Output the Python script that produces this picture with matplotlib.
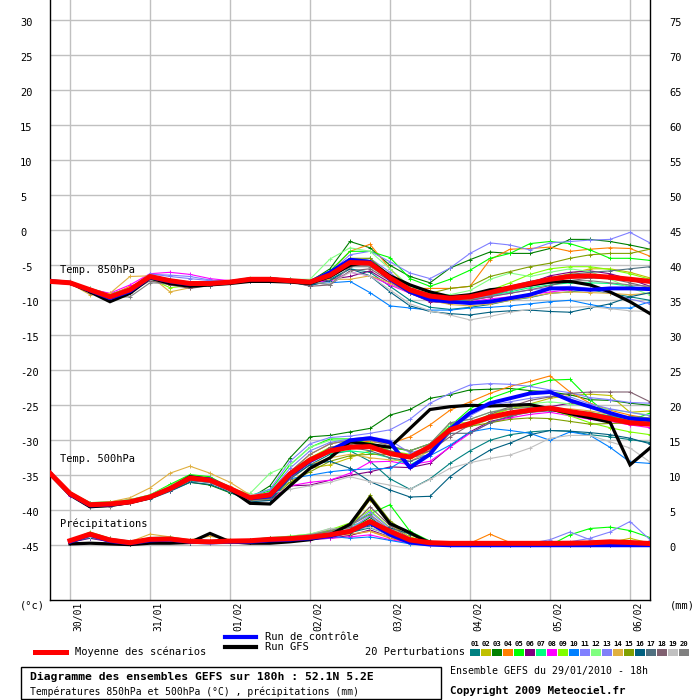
import numpy as np
import matplotlib
matplotlib.use("Agg")
import matplotlib.pyplot as plt
import matplotlib.transforms as mtransforms
from matplotlib.lines import Line2D
from matplotlib.patches import Rectangle

# Echeances (h) depuis le run du 29/01/2010 18h
HOURS = list(range(0, 181, 6))
PRECIP_HOURS = HOURS[1:]
DATE_HOURS = [6, 30, 54, 78, 102, 126, 150, 174]
DATE_LABELS = ["30/01", "31/01", "01/02", "02/02", "03/02", "04/02", "05/02", "06/02"]
LEFT_TICKS = list(range(-45, 31, 5))
PERT_NAMES = ["%02d" % i for i in range(1, 21)]
PERT_COLORS = ['#008080', '#c0c000', '#008000', '#ff8000', '#00ff00', '#800080',
               '#00ff80', '#ff00ff', '#80ff00', '#0080ff', '#8080ff', '#80ff80',
               '#8080f8', '#e0b040', '#80a000', '#006080', '#507080', '#806070',
               '#c0c0c0', '#808080']

# --- Temperature 850 hPa (°C) ---
t850_mean = [-7.3, -7.5, -8.5, -9.5, -8.5, -6.6, -7.2, -7.6, -7.6, -7.4, -7.0, -7.0, -7.2, -7.4, -6.4, -4.6,
             -4.7, -6.8, -8.5, -9.4, -9.7, -9.5, -8.9, -8.2, -7.6, -7.0, -6.6, -6.5, -6.7, -7.0, -7.3]
t850_ctrl = [-7.3, -7.5, -8.6, -9.7, -8.7, -6.7, -7.3, -7.7, -7.6, -7.4, -7.0, -7.0, -7.2, -7.4, -6.0, -4.2,
             -4.5, -7.0, -8.8, -9.9, -10.2, -10.4, -10.2, -9.7, -9.2, -8.3, -8.3, -8.5, -8.3, -8.3, -8.4]
t850_gfs = [-7.3, -7.5, -8.8, -10.2, -9.0, -6.8, -7.6, -8.0, -7.8, -7.6, -7.3, -7.3, -7.4, -7.6, -6.6, -5.0,
            -4.5, -6.5, -7.8, -8.8, -9.5, -9.2, -8.5, -8.2, -7.8, -7.4, -7.3, -7.8, -8.8, -10.2, -11.9]
t850_pert = [
    [-7.2, -7.6, -8.6, -9.4, -8.4, -6.8, -7.5, -7.8, -7.7, -7.5, -7.1, -7.1, -7.3, -7.9,
     -7.0, -5.5, -6.0, -8.0, -10.0, -11.0, -11.3, -11.0, -10.6, -10.0, -9.6, -9.0, -8.8, -8.5, -9.0, -9.5, -10.0],
    [-7.3, -7.5, -8.8, -9.2, -8.2, -6.5, -7.3, -7.5, -7.6, -7.3, -6.9, -7.0, -7.1, -7.2,
     -6.8, -5.0, -4.5, -6.5, -8.5, -9.8, -10.2, -9.8, -9.2, -8.5, -7.5, -6.8, -6.2, -5.5, -5.5, -6.0, -6.8],
    [-7.2, -7.4, -8.4, -9.6, -8.6, -6.4, -7.0, -7.4, -7.6, -7.4, -6.9, -6.8, -7.0, -7.3,
     -5.5, -1.6, -2.5, -5.0, -6.6, -7.5, -5.4, -4.2, -3.1, -3.3, -3.3, -2.6, -1.3, -1.3, -1.6, -2.1, -2.7],
    [-7.4, -7.5, -8.5, -9.3, -8.0, -6.9, -7.8, -8.0, -7.8, -7.4, -7.2, -7.1, -7.2, -7.4,
     -6.0, -3.0, -2.0, -5.5, -8.3, -8.3, -8.3, -8.0, -4.2, -2.7, -2.6, -2.4, -3.0, -2.7, -2.5, -2.6, -3.7],
    [-7.3, -7.6, -8.3, -9.1, -8.3, -6.8, -7.1, -7.6, -7.7, -7.5, -7.1, -7.0, -7.2, -7.2,
     -5.8, -3.0, -3.0, -3.9, -6.9, -8.0, -7.0, -5.7, -4.0, -3.3, -1.9, -1.6, -1.9, -2.8, -4.0, -4.0, -4.3],
    [-7.4, -7.5, -8.7, -9.5, -8.5, -6.7, -7.2, -7.8, -7.8, -7.5, -7.0, -6.8, -7.1, -7.5,
     -7.0, -6.6, -5.8, -7.5, -9.0, -10.2, -10.4, -10.0, -9.5, -8.5, -7.5, -6.5, -6.0, -5.8, -6.2, -7.0, -8.0],
    [-7.2, -7.4, -8.6, -9.3, -8.4, -6.6, -7.3, -7.7, -7.6, -7.3, -7.0, -7.1, -7.3, -7.4,
     -6.5, -4.5, -4.0, -6.5, -8.8, -9.8, -10.3, -10.0, -9.3, -8.8, -8.2, -7.8, -7.5, -7.5, -7.6, -8.0, -8.6],
    [-7.3, -7.6, -8.4, -9.0, -7.8, -6.2, -6.0, -6.3, -6.9, -7.2, -6.9, -7.0, -7.2, -7.3,
     -7.3, -6.0, -6.5, -7.8, -9.0, -9.8, -10.2, -10.2, -9.8, -9.5, -9.2, -8.8, -8.5, -8.3, -8.3, -8.2, -8.4],
    [-7.3, -7.5, -8.5, -9.4, -8.5, -6.9, -8.2, -7.9, -7.7, -7.4, -7.0, -7.0, -7.1, -7.3,
     -6.2, -4.0, -4.5, -6.8, -8.8, -9.5, -9.8, -9.5, -8.6, -7.5, -6.3, -5.5, -5.2, -5.2, -5.6, -6.2, -7.0],
    [-7.2, -7.5, -8.6, -9.7, -8.8, -7.0, -7.4, -7.7, -7.7, -7.6, -7.2, -7.2, -7.4, -7.7,
     -7.5, -7.3, -8.9, -10.8, -11.1, -11.4, -11.4, -11.1, -11.0, -10.8, -10.5, -10.2, -10.0, -10.6, -11.1, -11.1, -10.2],
    [-7.3, -7.4, -8.5, -9.5, -8.6, -6.3, -6.4, -6.6, -7.1, -7.3, -6.9, -6.9, -7.1, -7.2,
     -6.0, -3.5, -3.0, -4.5, -6.1, -6.9, -5.4, -3.3, -1.8, -2.1, -2.8, -1.8, -1.6, -1.4, -1.3, -0.3, -1.8],
    [-7.2, -7.6, -8.4, -9.2, -8.2, -6.6, -7.2, -7.4, -7.4, -7.2, -6.8, -6.8, -7.0, -7.0,
     -4.1, -2.5, -3.0, -5.5, -8.0, -9.0, -9.2, -8.6, -7.0, -6.1, -6.6, -6.0, -5.5, -5.9, -7.0, -8.2, -9.2],
    [-7.3, -7.5, -8.5, -9.3, -8.3, -6.2, -6.6, -6.9, -7.2, -7.3, -7.0, -7.0, -7.2, -7.3,
     -6.5, -4.5, -4.0, -6.0, -8.5, -9.5, -9.9, -9.8, -9.4, -9.0, -8.5, -8.2, -8.0, -8.3, -9.0, -9.8, -10.5],
    [-7.4, -7.6, -9.2, -9.0, -6.6, -6.5, -8.8, -8.2, -7.8, -7.5, -7.1, -7.1, -7.2, -7.2,
     -7.0, -7.0, -6.5, -7.5, -9.0, -10.0, -10.6, -10.8, -10.5, -10.0, -9.5, -9.0, -8.8, -8.9, -9.0, -9.2, -9.0],
    [-7.3, -7.5, -8.5, -9.4, -8.5, -6.7, -7.5, -7.9, -7.8, -7.5, -7.0, -7.1, -7.3, -7.6,
     -6.0, -4.0, -4.0, -6.5, -8.5, -9.0, -8.3, -8.0, -6.6, -5.9, -5.2, -4.7, -4.0, -3.5, -3.3, -3.3, -2.7],
    [-7.3, -7.6, -8.7, -9.6, -8.6, -6.8, -7.6, -8.0, -7.9, -7.6, -7.3, -7.2, -7.4, -7.9,
     -7.2, -5.5, -6.5, -8.8, -10.8, -11.6, -11.9, -12.1, -11.7, -11.5, -11.4, -11.6, -11.7, -11.1, -10.5, -9.5, -8.9],
    [-7.3, -7.5, -8.6, -9.5, -8.7, -6.9, -7.4, -7.9, -7.8, -7.5, -7.1, -7.2, -7.3, -7.5,
     -6.8, -5.0, -5.0, -7.0, -9.0, -9.8, -10.0, -9.6, -8.8, -8.0, -7.3, -6.8, -6.3, -6.0, -5.8, -5.5, -5.2],
    [-7.2, -7.5, -8.4, -9.4, -8.9, -7.2, -7.8, -8.3, -7.9, -7.5, -7.2, -7.1, -7.3, -8.0,
     -7.8, -5.8, -5.5, -7.2, -9.0, -10.0, -10.4, -10.0, -9.5, -9.0, -8.5, -7.9, -7.2, -6.8, -6.9, -7.5, -8.2],
    [-7.1, -7.4, -8.3, -9.3, -8.4, -6.8, -7.4, -7.7, -7.6, -7.4, -7.0, -6.9, -7.1, -7.4,
     -7.6, -6.0, -6.5, -8.5, -10.5, -11.5, -12.1, -12.8, -12.3, -11.7, -11.3, -11.0, -11.0, -10.9, -11.2, -11.5, -11.6],
    [-7.0, -7.3, -8.9, -9.6, -9.5, -7.5, -7.6, -7.8, -7.7, -7.4, -7.0, -7.0, -7.2, -7.4,
     -7.8, -5.2, -5.2, -7.0, -9.0, -9.8, -10.0, -9.8, -9.2, -8.6, -8.0, -7.5, -7.2, -7.2, -7.5, -7.8, -8.0],
]

# --- Temperature 500 hPa (°C) ---
t500_mean = [-34.7, -37.6, -39.2, -39.1, -38.8, -38.1, -36.9, -35.4, -35.7, -36.9, -38.2, -37.8, -34.8, -32.8,
             -31.5, -31.0, -30.9, -31.9, -32.4, -30.9, -28.5, -27.6, -26.7, -26.1, -25.7, -25.4, -25.9, -26.3,
             -26.9, -27.5, -27.7]
t500_ctrl = [-34.7, -37.7, -39.3, -39.2, -38.8, -38.1, -36.9, -35.4, -35.6, -36.9, -38.3, -38.0, -35.0, -33.0,
             -31.5, -30.0, -29.7, -30.3, -33.9, -32.0, -28.4, -26.1, -24.7, -24.0, -23.3, -23.1, -24.3, -25.2,
             -26.1, -26.9, -27.1]
t500_gfs = [-34.8, -37.8, -39.5, -39.3, -38.9, -38.2, -36.9, -35.2, -35.6, -37.0, -39.0, -39.1, -36.5, -34.0,
            -32.5, -30.2, -30.6, -31.0, -28.3, -25.6, -25.2, -25.0, -25.1, -25.0, -24.9, -25.5, -26.2, -26.8,
            -27.4, -33.5, -31.1]
t500_pert = [
    [-34.5, -37.8, -39.4, -39.3, -38.9, -38.2, -37.0, -35.8, -36.0, -37.2, -38.6, -38.3,
     -35.5, -33.5, -32.0, -31.5, -33.0, -35.5, -37.0, -35.5, -33.3, -31.5, -30.0, -29.2, -28.8, -28.6, -28.7, -29.2, -29.5, -29.9, -30.3],
    [-34.6, -37.5, -39.0, -38.9, -38.6, -38.0, -36.7, -35.3, -35.6, -36.8, -38.0, -37.5,
     -36.0, -34.0, -33.5, -32.5, -31.5, -31.0, -31.5, -30.5, -28.5, -27.5, -26.5, -25.5, -24.8, -24.0, -23.6, -23.4, -23.6, -26.0, -25.8],
    [-34.8, -37.7, -39.3, -39.0, -38.7, -38.2, -37.2, -36.0, -36.4, -37.5, -38.3, -36.5,
     -32.5, -29.5, -29.3, -28.8, -28.3, -26.4, -25.6, -24.0, -23.5, -22.8, -22.7, -22.6, -22.9, -23.1, -23.5, -24.2, -24.3, -24.7, -25.0],
    [-34.7, -37.6, -39.1, -39.2, -38.8, -38.0, -36.5, -35.0, -35.3, -36.6, -38.0, -37.6,
     -34.5, -32.0, -30.5, -30.0, -30.2, -30.5, -29.5, -27.8, -25.7, -24.5, -23.3, -22.3, -21.6, -20.8, -23.1, -24.7, -25.7, -26.4, -26.9],
    [-34.5, -37.4, -38.9, -38.8, -38.5, -37.8, -36.3, -34.9, -35.2, -36.8, -38.1, -37.2,
     -33.5, -31.0, -29.8, -29.8, -30.5, -31.0, -31.5, -30.5, -28.0, -25.5, -24.0, -23.0, -22.2, -21.4, -21.3, -24.2, -26.5, -27.2, -26.1],
    [-34.8, -37.7, -39.3, -39.2, -38.9, -38.3, -37.0, -35.6, -35.9, -37.1, -38.4, -38.6,
     -36.5, -36.4, -35.7, -35.0, -34.5, -33.8, -33.9, -33.3, -30.9, -28.8, -27.3, -26.7, -25.7, -25.2, -24.7, -25.2, -26.1, -27.0, -27.6],
    [-34.6, -37.5, -39.1, -39.0, -38.7, -38.0, -36.8, -35.2, -35.6, -36.9, -37.9, -37.0,
     -35.0, -32.8, -31.8, -31.5, -31.8, -32.5, -33.5, -32.0, -28.0, -28.0, -27.0, -26.2, -25.7, -25.5, -25.8, -26.0, -26.5, -27.0, -27.3],
    [-34.9, -37.9, -39.4, -39.3, -38.9, -38.3, -37.2, -35.6, -35.9, -37.3, -38.5, -38.4,
     -36.5, -36.0, -35.7, -34.7, -33.1, -33.0, -33.5, -33.0, -31.0, -29.0, -27.5, -26.8, -26.3, -26.0, -26.5, -27.0, -27.3, -27.8, -28.2],
    [-34.6, -37.6, -39.2, -39.0, -38.7, -38.0, -36.9, -35.3, -35.6, -36.9, -38.2, -37.5,
     -34.5, -32.5, -31.0, -30.5, -30.3, -31.5, -32.0, -31.0, -27.5, -27.5, -26.3, -25.5, -25.2, -25.6, -26.5, -27.5, -28.2, -28.8, -29.2],
    [-34.7, -37.7, -39.3, -39.2, -38.9, -38.2, -37.0, -35.7, -36.0, -37.2, -38.4, -37.9,
     -35.5, -35.0, -34.5, -34.2, -34.1, -34.0, -32.3, -32.2, -30.7, -28.8, -28.3, -28.6, -29.0, -30.0, -28.8, -29.3, -31.0, -33.1, -33.3],
    [-34.6, -37.5, -39.0, -38.9, -38.6, -37.9, -36.6, -35.1, -35.4, -36.7, -38.0, -37.0,
     -33.0, -30.5, -29.6, -29.4, -29.0, -28.5, -27.0, -24.7, -23.3, -22.1, -21.9, -22.0, -22.3, -22.8, -23.2, -23.9, -24.2, -24.6, -24.7],
    [-34.5, -37.4, -39.0, -38.8, -38.5, -37.8, -36.5, -35.3, -35.8, -36.9, -37.6, -34.7,
     -33.5, -31.0, -30.0, -30.2, -31.0, -32.0, -32.5, -30.5, -27.5, -27.0, -26.0, -25.3, -24.8, -24.5, -24.8, -25.2, -25.6, -26.0, -26.4],
    [-34.7, -37.6, -39.2, -39.1, -38.8, -38.1, -36.8, -35.4, -35.7, -37.0, -38.2, -37.4,
     -34.0, -31.5, -30.3, -29.8, -29.5, -30.0, -31.8, -31.0, -28.5, -26.5, -25.0, -24.5, -24.0, -23.7, -23.8, -24.8, -25.5, -26.0, -26.5],
    [-34.8, -37.7, -39.1, -38.8, -38.2, -36.8, -34.7, -33.7, -34.7, -36.0, -37.8, -37.8,
     -35.5, -33.5, -32.5, -32.0, -32.5, -32.8, -33.0, -31.5, -28.5, -28.0, -27.0, -26.5, -26.0, -25.6, -25.5, -25.8, -26.3, -26.8, -27.0],
    [-34.7, -37.7, -39.3, -39.2, -38.9, -38.2, -37.0, -35.6, -35.9, -37.1, -38.5, -38.5,
     -36.0, -34.5, -33.0, -32.2, -32.0, -32.0, -32.5, -31.5, -28.5, -28.0, -27.5, -27.0, -26.8, -26.9, -27.3, -27.7, -27.6, -27.5, -27.4],
    [-34.8, -37.8, -39.5, -39.4, -39.0, -38.4, -37.3, -36.0, -36.3, -37.4, -38.8, -38.6,
     -35.5, -33.5, -33.0, -34.0, -35.9, -37.1, -38.1, -38.0, -35.2, -33.1, -31.4, -30.4, -29.2, -28.6, -28.7, -28.9, -29.2, -29.7, -30.5],
    [-34.7, -37.7, -39.2, -39.1, -38.8, -38.1, -37.0, -35.5, -35.8, -37.0, -38.4, -38.3,
     -35.0, -33.0, -31.5, -31.0, -31.5, -32.5, -33.0, -32.0, -29.0, -29.0, -27.5, -26.5, -26.0, -25.8, -26.0, -26.3, -26.5, -26.6, -26.8],
    [-34.6, -37.6, -39.2, -39.1, -38.8, -38.1, -36.9, -35.4, -35.7, -36.9, -38.2, -37.8,
     -35.5, -33.0, -31.0, -30.5, -30.8, -31.5, -32.3, -31.5, -29.5, -27.8, -26.3, -25.2, -24.3, -23.8, -23.3, -23.1, -23.1, -23.1, -24.5],
    [-34.5, -37.5, -39.1, -39.0, -38.7, -38.0, -36.8, -35.5, -35.8, -37.3, -37.8, -37.6,
     -37.0, -36.5, -36.0, -35.2, -35.9, -36.4, -37.0, -35.6, -34.0, -33.2, -32.6, -32.1, -31.1, -29.7, -29.3, -29.3, -30.2, -31.1, -33.1],
    [-34.8, -37.8, -39.6, -39.5, -39.0, -38.3, -37.1, -35.7, -36.0, -37.2, -38.3, -37.6,
     -34.5, -32.0, -30.5, -30.0, -30.0, -30.8, -31.5, -30.5, -27.5, -27.0, -26.0, -25.5, -25.3, -25.5, -26.0, -26.6, -27.0, -27.4, -27.8],
]

# --- Precipitations (mm), de +6h a +180h ---
rr_mean = [0.66, 1.6, 0.75, 0.37, 0.85, 0.9, 0.57, 0.5, 0.6, 0.65, 0.85, 0.95, 1.15, 1.5, 2.0, 3.4, 2.0, 0.76,
           0.37, 0.28, 0.28, 0.28, 0.28, 0.28, 0.28, 0.3, 0.35, 0.5, 0.4, 0.25]
rr_ctrl = [0.5, 1.5, 0.6, 0.3, 0.7, 0.8, 0.5, 0.4, 0.5, 0.5, 0.7, 0.8, 1.0, 1.3, 2.0, 3.2, 1.5, 0.4,
           0.1, 0, 0, 0, 0, 0, 0, 0, 0, 0, 0, 0]
rr_gfs = [0.2, 0.3, 0.2, 0.1, 0.3, 0.3, 0.4, 1.7, 0.5, 0.3, 0.3, 0.5, 0.8, 1.5, 3.0, 6.8, 3.1, 1.8,
          0.3, 0.1, 0, 0, 0, 0, 0, 0, 0, 0, 0, 0]
rr_pert = [
    [0.5, 1.2, 0.7, 0.3, 0.7, 0.8, 0.4, 0.4, 0.5, 0.6, 0.8, 0.9, 1.0, 1.3, 1.8, 2.5, 1.5, 0.8, 0.3, 0.1, 0, 0, 0, 0, 0, 0, 0, 0, 0, 0],
    [0.6, 1.5, 0.8, 0.4, 1.0, 1.0, 0.6, 0.5, 0.7, 0.8, 1.0, 1.1, 1.3, 1.6, 2.5, 6.5, 3.0, 1.2, 0.4, 0.1, 0, 0, 0, 0, 0, 0, 0.2, 0.4, 1.0, 0.3],
    [0.7, 1.4, 0.6, 0.3, 0.8, 0.9, 0.5, 0.4, 0.6, 0.7, 0.9, 0.8, 0.9, 1.2, 2.2, 4.0, 1.8, 0.5, 0.2, 0, 0, 0, 0, 0, 0, 0, 0, 0, 0, 0],
    [0.5, 1.3, 0.7, 0.2, 0.9, 1.0, 0.7, 0.6, 0.5, 0.6, 0.7, 0.9, 1.2, 1.5, 1.5, 2.0, 1.0, 0.3, 0.1, 0, 0.3, 1.6, 0.4, 0, 0, 0, 0, 0, 0, 0],
    [0.6, 1.6, 0.9, 0.4, 0.8, 1.0, 0.6, 0.5, 0.6, 0.7, 1.0, 1.2, 1.5, 2.0, 3.0, 4.5, 5.8, 2.0, 0.6, 0.1, 0, 0, 0, 0, 0, 1.5, 2.4, 2.6, 2.1, 1.1],
    [0.4, 1.0, 0.5, 0.2, 0.6, 0.7, 0.4, 0.3, 0.4, 0.5, 0.6, 0.7, 0.8, 1.0, 1.4, 2.2, 1.2, 0.4, 0.1, 0, 0, 0.2, 0.3, 0.2, 0, 0, 0, 0, 0, 0],
    [0.6, 1.8, 0.9, 0.5, 1.1, 1.2, 0.7, 0.6, 0.7, 0.8, 1.1, 1.2, 1.4, 1.8, 2.8, 3.5, 2.0, 0.7, 0.2, 0, 0, 0, 0, 0, 0, 0, 0, 0, 0, 0],
    [0.5, 1.1, 0.6, 0.3, 0.8, 0.8, 0.5, 0.4, 0.5, 0.6, 0.7, 0.8, 0.9, 1.0, 1.2, 1.5, 0.8, 0.3, 0.1, 0, 0, 0, 0, 0, 0, 0, 0, 0, 0, 0],
    [0.7, 1.9, 1.0, 0.5, 1.0, 1.1, 0.6, 0.6, 0.7, 0.8, 1.0, 1.3, 1.6, 2.2, 3.2, 5.0, 2.5, 0.9, 0.3, 0, 0, 0, 0, 0, 0, 0, 0, 0, 0, 0],
    [0.6, 1.4, 0.7, 0.3, 0.8, 1.0, 0.6, 0.5, 0.6, 0.6, 0.8, 1.0, 1.1, 1.3, 1.0, 1.2, 0.7, 0.2, 0, 0, 0, 0, 0, 0, 0, 0, 0, 0, 0, 0],
    [0.5, 1.3, 0.6, 0.3, 0.7, 0.8, 0.5, 0.4, 0.6, 0.7, 0.9, 1.1, 1.4, 1.9, 2.8, 4.8, 2.4, 0.8, 0.3, 0.1, 0, 0, 0, 0, 0.2, 0.5, 1.0, 1.9, 3.4, 0.8],
    [0.6, 1.5, 0.8, 0.4, 0.9, 1.0, 0.6, 0.5, 0.7, 0.8, 1.1, 1.3, 1.6, 2.4, 2.5, 3.5, 2.2, 0.8, 0.2, 0, 0, 0, 0, 0, 0, 0, 0, 0, 0, 0],
    [0.5, 1.4, 0.7, 0.3, 0.8, 0.9, 0.5, 0.5, 0.6, 0.7, 0.9, 1.0, 1.2, 1.6, 2.4, 4.2, 2.0, 0.7, 0.2, 0, 0, 0, 0, 0.3, 0.8, 1.9, 0.8, 0.3, 0, 0],
    [0.7, 1.7, 0.9, 0.5, 1.6, 1.2, 0.8, 1.3, 0.8, 0.8, 1.0, 1.0, 1.2, 1.4, 1.6, 2.0, 1.2, 0.5, 0.2, 0, 0, 0, 0, 0, 0, 0, 0, 0, 0, 0],
    [0.6, 1.5, 0.8, 0.4, 0.9, 1.0, 0.6, 0.5, 0.6, 0.7, 1.0, 1.2, 1.5, 2.0, 3.0, 7.2, 3.5, 1.5, 0.4, 0.1, 0, 0, 0, 0, 0, 0, 0, 0, 0.3, 0.1],
    [0.4, 1.1, 0.6, 0.2, 0.7, 0.8, 0.4, 0.3, 0.4, 0.5, 0.7, 0.8, 1.0, 1.2, 1.8, 2.8, 2.5, 1.6, 0.6, 0.1, 0, 0, 0, 0, 0, 0, 0, 0, 0, 0],
    [0.5, 1.3, 0.7, 0.3, 0.8, 0.9, 0.5, 0.4, 0.5, 0.6, 0.8, 0.9, 1.1, 1.4, 2.0, 3.0, 1.6, 0.6, 0.2, 0, 0, 0, 0, 0, 0, 0, 0, 0, 0, 0],
    [0.6, 1.6, 0.8, 0.4, 0.9, 1.0, 0.6, 0.5, 0.6, 0.7, 0.9, 1.0, 1.3, 1.7, 2.6, 5.5, 2.8, 1.0, 0.3, 0, 0, 0, 0, 0, 0, 0, 0, 0, 0, 0],
    [0.5, 1.2, 0.6, 0.3, 0.8, 0.8, 0.5, 0.4, 0.5, 0.6, 0.9, 1.1, 1.5, 2.4, 2.2, 2.6, 1.4, 0.5, 0.1, 0, 0, 0, 0, 0, 0, 0, 0, 0, 0, 0],
    [0.8, 1.8, 1.0, 0.6, 1.0, 1.1, 0.7, 0.6, 0.7, 0.8, 1.0, 1.2, 1.5, 2.1, 2.8, 4.4, 2.2, 0.8, 0.3, 0.1, 0, 0, 0, 0, 0, 0, 0, 0, 0, 0],
]

RR_OFFSET = 45  # 0 mm sur l'axe de droite = -45 °C a gauche

W, H = 700, 700
FONT = 'DejaVu Sans Mono'
plt.rcParams['font.family'] = FONT


def fx(px):
    return px / W


def fy(py):
    return 1 - py / H


fig = plt.figure(figsize=(7, 7), dpi=100)
ax = fig.add_axes([fx(50), fy(600), 600 / W, 600 / H])
ax.set_xlim(0, 180)
ax.set_ylim(30 - (600 - 20.3) / 7, 30 + 20.3 / 7)

# grille
for v in LEFT_TICKS:
    ax.axhline(v, color='#c0c0c0', lw=1.0, zorder=0)
for h in DATE_HOURS:
    ax.axvline(h, color='#c0c0c0', lw=1.0, zorder=0)

for s in ['top']:
    ax.spines[s].set_visible(False)
for s in ['left', 'right', 'bottom']:
    ax.spines[s].set_linewidth(1.0)
    ax.spines[s].set_color('black')
ax.set_xticks([])
ax.set_yticks([])

rr_pert_shift = [[r - RR_OFFSET for r in serie] for serie in rr_pert]

# perturbations
for i, col in enumerate(PERT_COLORS):
    for xs, ys in ((HOURS, t850_pert[i]), (HOURS, t500_pert[i]), (PRECIP_HOURS, rr_pert_shift[i])):
        ax.plot(xs, ys, color=col, lw=0.8, marker='+', ms=3, mew=0.7, zorder=2)

# run GFS, controle, moyenne
for xs, ys in ((HOURS, t850_gfs), (HOURS, t500_gfs), (PRECIP_HOURS, [r - RR_OFFSET for r in rr_gfs])):
    ax.plot(xs, ys, color='black', lw=2.3, zorder=3, solid_joinstyle='miter')
for xs, ys in ((HOURS, t850_ctrl), (HOURS, t500_ctrl), (PRECIP_HOURS, [r - RR_OFFSET for r in rr_ctrl])):
    ax.plot(xs, ys, color='#0000ff', lw=2.8, zorder=4)
for xs, ys in ((HOURS, t850_mean), (HOURS, t500_mean), (PRECIP_HOURS, [r - RR_OFFSET for r in rr_mean])):
    ax.plot(xs, ys, color='#ff0000', lw=3.6, zorder=5)

# graduations gauche / droite
trans = mtransforms.blended_transform_factory(fig.transFigure, ax.transData)
for v in LEFT_TICKS:
    ax.text(fx(20), v - 0.45, str(v), transform=trans, ha='left', va='center',
            fontsize=7.5, clip_on=False)
    ax.text(fx(669), v - 0.45, str(v + RR_OFFSET), transform=trans, ha='left', va='center',
            fontsize=7.5, clip_on=False)

# dates
for h, lab in zip(DATE_HOURS, DATE_LABELS):
    xp = 50 + h * 600 / 180 + 3
    fig.text(fx(xp), fy(602), lab, rotation=90, ha='left', va='top', fontsize=7)

fig.text(fx(20), fy(606), "(°c)", ha='left', va='center', fontsize=7.5)
fig.text(fx(670), fy(605), "(mm)", ha='left', va='center', fontsize=7.5)

# etiquettes dans le graphe
fig.text(fx(60), fy(270), "Temp. 850hPa", ha='left', va='center', fontsize=7.5)
fig.text(fx(60), fy(459), "Temp. 500hPa", ha='left', va='center', fontsize=7.5)
fig.text(fx(60), fy(524), "Précipitations", ha='left', va='center', fontsize=7.5)

# legende
fig.add_artist(Line2D([fx(225), fx(256)], [fy(636.5), fy(636.5)], color='#0000ff', lw=3.0))
fig.add_artist(Line2D([fx(225), fx(256)], [fy(646.5), fy(646.5)], color='black', lw=3.0))
fig.add_artist(Line2D([fx(35), fx(66)], [fy(651.5), fy(651.5)], color='#ff0000', lw=3.6))
fig.text(fx(265), fy(636.5), "Run de contrôle", ha='left', va='center', fontsize=7.5)
fig.text(fx(265), fy(646.5), "Run GFS", ha='left', va='center', fontsize=7.5)
fig.text(fx(75), fy(652), "Moyenne des scénarios", ha='left', va='center', fontsize=7.5)
fig.text(fx(365), fy(652), "20 Perturbations", ha='left', va='center', fontsize=7.5)

for i, (name, col) in enumerate(zip(PERT_NAMES, PERT_COLORS)):
    x0 = 470 + 11 * i
    fig.add_artist(Rectangle((fx(x0), fy(656)), 10 / W, 7 / H, transform=fig.transFigure,
                             facecolor=col, edgecolor='none'))
    fig.text(fx(x0 + 5), fy(643.5), name, ha='center', va='center', fontsize=5.2, weight='bold')

# cadre titre
fig.add_artist(Rectangle((fx(20.5), fy(699)), 420 / W, 32 / H, transform=fig.transFigure,
                         facecolor='none', edgecolor='black', lw=1.0))
fig.text(fx(30), fy(677), "Diagramme des ensembles GEFS sur 180h : 52.1N 5.2E",
         ha='left', va='center', fontsize=8.2, weight='bold')
fig.text(fx(30), fy(691.5), "Températures 850hPa et 500hPa (°C) , précipitations (mm)",
         ha='left', va='center', fontsize=7)
fig.text(fx(450), fy(671), "Ensemble GEFS du 29/01/2010 - 18h", ha='left', va='center', fontsize=7.1)
fig.text(fx(450), fy(690.5), "Copyright 2009 Meteociel.fr", ha='left', va='center',
         fontsize=7.8, weight='bold')

fig.savefig("out.png", dpi=100)
